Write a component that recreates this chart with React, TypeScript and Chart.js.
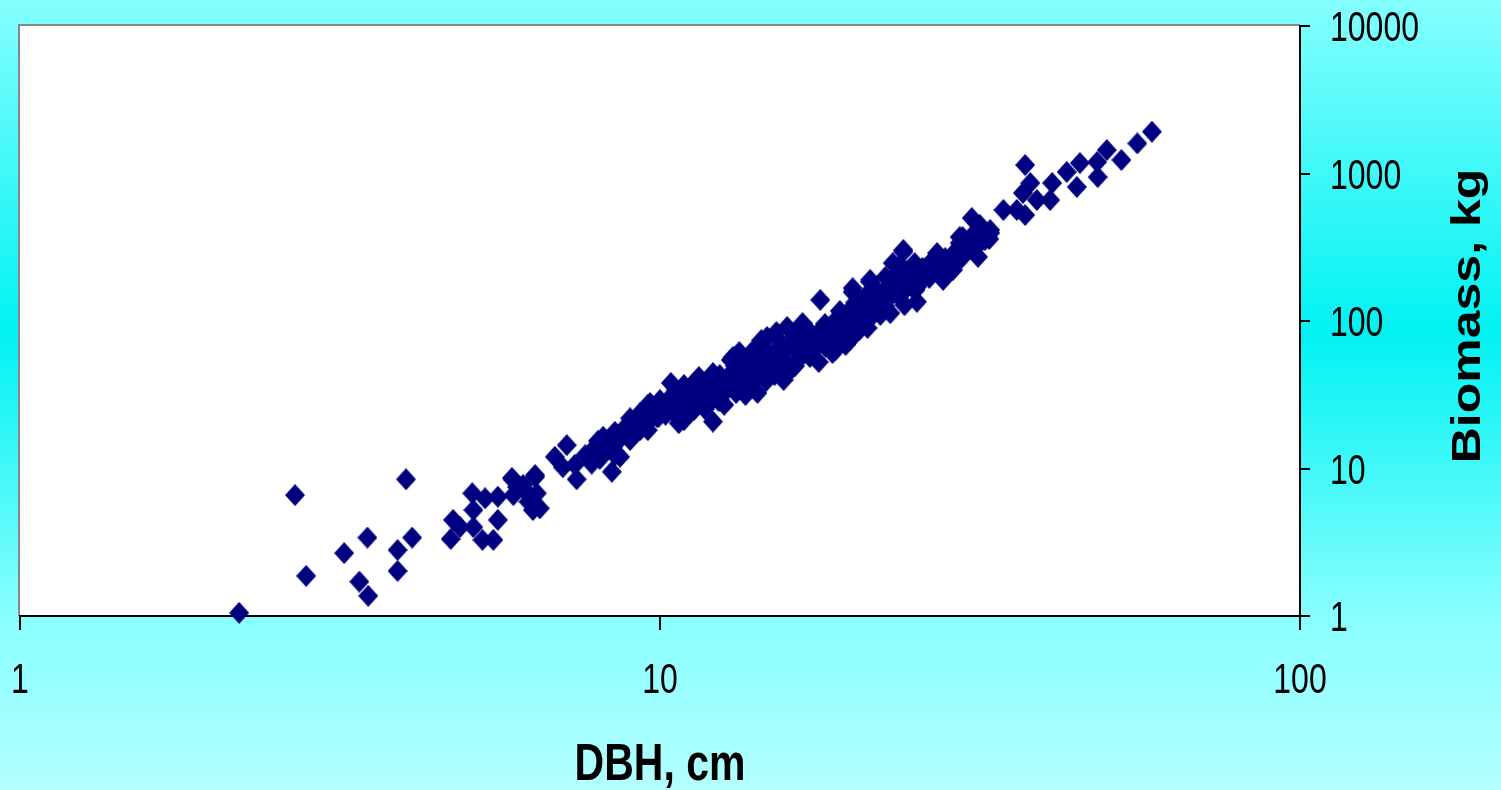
import React, { useEffect, useRef } from 'react';
import { Chart, registerables } from 'chart.js';

Chart.register(...registerables);

// DBH (cm) of each tree
const dbh: number[] = [
  2.2, 2.69, 2.8, 3.21, 3.49, 3.39, 3.5, 4.01, 3.89, 3.89, 4.1, 4.71, 4.75, 4.87, 5.09, 5.11, 5.11, 5.28, 5.49, 5.58,
  5.58, 5.33, 5.9, 5.9, 6.11, 6.38, 6.23, 6.49, 6.42, 7.41, 6.85, 7.15, 7.82, 7.85, 7.05, 8.41, 8.15, 8.66, 8.98, 8.98,
  9.31, 9.57, 9.57, 9.89, 10.4, 10.9, 10.7, 12.1, 14.2, 11.3, 12.1, 13.0, 14.0, 14.7, 15.6, 15.2,
  9.65, 17.7, 18.6, 19.8, 21.1, 22.9, 24.1, 25.2, 27.7, 28.7, 31.4,
  11.5, 12.9, 13.3, 14.4, 15.8, 16.7, 17.8, 20.0, 21.3, 24.0, 27.1, 29.1, 29.4, 31.1,
  58.7, 55.7, 52.6, 49.9, 48.2, 48.3, 45.3, 44.8, 43.2, 41.0, 40.7, 38.8, 37.9, 37.2, 36.9, 36.1, 34.4, 37.2, 30.7, 29.7,
  29.4, 27.1, 24.0, 23.1, 21.3, 20.0, 25.2,
  10.0, 10.55, 11.1, 11.3, 10.2, 10.9, 11.8, 12.4, 12.6, 13.3, 13.6, 14.1, 13.1, 12.4, 14.9, 15.4, 16.0, 16.5, 17.2, 16.3,
  17.5, 15.1, 18.4, 19.1, 19.5, 20.2, 20.5, 18.8, 20.9, 22.1, 22.5, 23.3, 23.7, 24.6, 25.5, 26.4, 25.0, 22.1, 28.4, 30.0,
  32.2, 32.8, 31.6,
  7.36, 7.64, 8.06, 8.35, 8.82, 9.14, 8.51, 9.31, 9.47,
  5.87, 5.98, 6.2, 6.38, 6.33,
  8.0, 8.1, 8.05, 8.5, 8.55, 8.45, 9.0, 8.95, 9.5, 9.45,
  10.0, 10.05, 9.95, 10.6, 10.5, 10.55, 11.1, 11.2, 11.15, 11.8, 11.7, 11.75,
  12.4, 12.45, 12.35, 13.1, 13.05, 13.15, 13.8, 13.85, 13.75, 14.6, 14.55, 14.65,
  15.4, 15.35, 15.45, 16.2, 16.3, 16.25, 17.1, 17.2, 17.15, 18.1, 18.05, 18.15,
  19.1, 19.15, 19.05, 20.2, 20.1, 20.15, 21.3, 21.25, 21.35, 22.5, 22.4, 22.45,
  23.7, 23.75, 23.65, 25.0, 25.1, 25.05, 26.4, 26.45, 26.35, 27.9, 27.85,
  29.4, 29.5, 31.1, 31.0, 32.8, 32.7,
  8.28, 8.3, 8.74, 8.72, 9.22, 9.2, 9.73, 9.75, 10.27, 10.3, 10.84, 10.8, 11.44, 11.4, 12.08, 12.1, 12.75, 12.7,
  13.46, 13.5, 14.21, 14.2, 14.99, 15.0, 15.82, 15.8, 16.7, 16.75, 17.63, 17.6, 18.6, 18.65, 19.63, 19.6,
  20.72, 20.7, 21.87, 21.9, 23.09, 23.1, 24.37, 24.4, 25.71, 25.7, 27.14, 27.1, 28.64, 28.6, 30.23, 31.91,
];

// Biomass (kg) of each tree, same order as dbh
const biomass: number[] = [
  1.05, 6.6, 1.87, 2.67, 3.4, 1.71, 1.37, 8.45, 2.8, 2.02, 3.4, 3.33, 4.48, 4.01, 6.79, 5.23, 4.0, 3.28, 3.28, 4.48,
  6.44, 6.28, 8.36, 6.6, 7.73, 9.03, 5.96, 5.37, 6.79, 8.45, 12.0, 14.4, 10.8, 13.4, 10.2, 9.5, 16.4, 12.0, 21.9, 15.6,
  23.8, 27.0, 18.2, 22.4, 38.0, 36.8, 20.3, 20.8, 32.5, 38.0, 44.4, 57.0, 63.6, 77.9, 39.8, 84.2,
  27.8, 52.7, 60.7, 74.3, 89.7, 113, 128, 135, 190, 222, 272,
  41.7, 54.4, 61.6, 74.3, 91.1, 96.9, 139, 157, 190, 294, 289, 303, 371, 401,
  1920, 1600, 1235, 1443, 1197, 946, 1178, 810, 1024, 862, 661, 661, 862, 1142, 738, 566, 566, 523, 499, 371,
  338, 272, 303, 247, 184, 167, 170,
  29.1, 27.0, 31.5, 24.9, 23.1, 21.3, 31.5, 36.8, 27.0, 43.0, 31.5, 50.3, 46.5, 29.1, 54.4, 63.6, 46.5, 68.8, 58.8, 80.4,
  74.3, 43.0, 80.4, 102, 68.8, 119, 86.9, 63.6, 139, 139, 162, 190, 150, 205, 222, 240, 162, 110, 259, 303,
  354, 414, 448,
  10.6, 12.3, 13.8, 14.4, 17.7, 19.7, 12.3, 18.2, 21.3,
  8.62, 7.49, 6.82, 8.76, 5.23,
  15.4, 13.3, 11.6, 17.7, 15.8, 14.2, 20.4, 17.1, 23.4, 20.3,
  28.7, 25.3, 22.4, 34.1, 28.2, 23.4, 35.1, 29.1, 24.5, 36.8, 30.5, 25.3,
  43.0, 35.1, 28.7, 49.5, 39.8, 32.5, 57.0, 45.1, 35.7, 64.6, 50.3, 39.2,
  72.0, 55.3, 42.4, 79.1, 62.6, 49.5, 85.5, 69.8, 57.0, 95.4, 80.4, 66.6,
  117, 96.9, 79.1, 134, 111, 91.1, 160, 130, 106, 199, 160, 126,
  240, 187, 145, 247, 202, 162, 247, 222, 196, 267, 225,
  317, 263, 349, 317, 395, 360,
  15.6, 13.6, 18.2, 16.4, 21.0, 19.4, 24.7, 22.4, 28.9, 24.7, 31.5, 26.3, 32.8, 27.3, 36.3, 29.6, 41.7, 33.9,
  47.6, 38.1, 53.7, 42.2, 59.9, 46.3, 66.6, 51.9, 73.8, 59.3, 82.2, 67.8, 96.2, 79.8, 114, 93.5,
  133, 109, 160, 129, 194, 153, 217, 172, 229, 193, 244, 221, 278, 255, 310, 354,
];

const xTickValues: number[] = [1, 10, 100];
const yTickValues: number[] = [1, 10, 100, 1000, 10000];
const xTitle = 'DBH, cm';
const yTitle = 'Biomass, kg';

const FONT = '"Liberation Sans", Arial, Helvetica, sans-serif';

function makeDiamond(): HTMLCanvasElement {
  const m = document.createElement('canvas');
  m.width = 20;
  m.height = 22;
  const c = m.getContext('2d')!;
  c.fillStyle = '#000080';
  c.beginPath();
  c.moveTo(10, 0);
  c.lineTo(20, 11);
  c.lineTo(10, 22);
  c.lineTo(0, 11);
  c.closePath();
  c.fill();
  return m;
}

export default function App() {
  const ref = useRef<HTMLCanvasElement | null>(null);

  useEffect(() => {
    document.body.style.margin = '0';
    const canvas = ref.current;
    if (!canvas) return;
    const diamond = makeDiamond();

    const decor = {
      id: 'decor',
      beforeDraw(chart: any) {
        const { ctx, width, height, chartArea: a } = chart;
        ctx.save();
        const g = ctx.createLinearGradient(0, 0, 0, height);
        g.addColorStop(0, '#85FFFF');
        g.addColorStop(0.42, '#00F2F2');
        g.addColorStop(0.78, '#88FFFF');
        g.addColorStop(1, '#B3FFFF');
        ctx.fillStyle = g;
        ctx.fillRect(0, 0, width, height);
        ctx.fillStyle = '#FFFFFF';
        ctx.fillRect(a.left, a.top, a.right - a.left, a.bottom - a.top);
        ctx.strokeStyle = '#888888';
        ctx.lineWidth = 2;
        ctx.beginPath();
        ctx.moveTo(a.left - 1, a.bottom);
        ctx.lineTo(a.left - 1, a.top - 1);
        ctx.lineTo(a.right, a.top - 1);
        ctx.stroke();
        ctx.restore();
      },
      afterDraw(chart: any) {
        const { ctx, chartArea: a } = chart;
        const sx = chart.scales.x;
        const sy = chart.scales.y;
        ctx.save();
        ctx.fillStyle = '#000000';
        ctx.font = `32px ${FONT}`;
        ctx.textBaseline = 'alphabetic';
        const S = 1.32;
        ctx.textAlign = 'center';
        for (const t of sx.ticks) {
          const px = sx.getPixelForValue(t.value);
          ctx.save();
          ctx.translate(px, a.bottom + 77);
          ctx.scale(1, S);
          ctx.fillText(String(t.value), 0, 0);
          ctx.restore();
        }
        ctx.textAlign = 'left';
        for (const t of sy.ticks) {
          const py = sy.getPixelForValue(t.value);
          ctx.save();
          ctx.translate(a.right + 30, py + 15);
          ctx.scale(1, S);
          ctx.fillText(String(t.value), 0, 0);
          ctx.restore();
        }
        // axis titles
        ctx.font = `bold 41px ${FONT}`;
        ctx.textAlign = 'center';
        ctx.save();
        ctx.translate((a.left + a.right) / 2, 780);
        ctx.scale(1, 1.25);
        ctx.fillText(xTitle, 0, 0);
        ctx.restore();

        ctx.font = `bold 40px ${FONT}`;
        ctx.save();
        ctx.translate(a.right + 180, (a.top + a.bottom) / 2 - 5);
        ctx.rotate(-Math.PI / 2);
        ctx.scale(1.25, 1);
        ctx.fillText(yTitle, 0, 0);
        ctx.restore();
        ctx.restore();
      },
    };

    const chart = new Chart(canvas, {
      type: 'scatter',
      data: {
        datasets: [
          {
            label: 'Biomass',
            data: dbh.map((x, i) => ({ x, y: biomass[i] })),
            pointStyle: diamond,
            pointRadius: 10,
            pointHoverRadius: 10,
            pointBorderWidth: 0,
            backgroundColor: '#000080',
            borderColor: '#000080',
            clip: false,
          } as any,
        ],
      },
      options: {
        responsive: false,
        animation: false,
        events: [],
        layout: { padding: { left: 20, top: 26, right: 0, bottom: 0 } },
        plugins: {
          legend: { display: false },
          tooltip: { enabled: false },
          title: { display: false },
        },
        scales: {
          x: {
            type: 'logarithmic',
            position: 'bottom',
            min: 1,
            max: 100,
            afterBuildTicks: (s: any) => {
              s.ticks = xTickValues.map((v) => ({ value: v }));
            },
            afterFit: (s: any) => {
              s.height = 174;
            },
            ticks: { display: false, callback: (v: any) => String(v) },
            grid: {
              display: true,
              drawOnChartArea: false,
              drawTicks: true,
              tickLength: 14,
              color: '#000000',
              lineWidth: 2,
            },
            border: { display: true, color: '#000000', width: 2 },
          },
          y: {
            type: 'logarithmic',
            position: 'right',
            min: 1,
            max: 10000,
            afterBuildTicks: (s: any) => {
              s.ticks = yTickValues.map((v) => ({ value: v }));
            },
            afterFit: (s: any) => {
              s.width = 201;
            },
            ticks: { display: false, callback: (v: any) => String(v) },
            grid: {
              display: true,
              drawOnChartArea: false,
              drawTicks: true,
              tickLength: 10,
              color: '#000000',
              lineWidth: 2,
            },
            border: { display: true, color: '#000000', width: 2 },
          },
        },
      } as any,
      plugins: [decor],
    });

    return () => {
      chart.destroy();
    };
  }, []);

  return (
    <div style={{ width: 1501, height: 790, position: 'relative' }}>
      <canvas ref={ref} width={1501} height={790} style={{ width: 1501, height: 790, display: 'block' }} />
    </div>
  );
}
